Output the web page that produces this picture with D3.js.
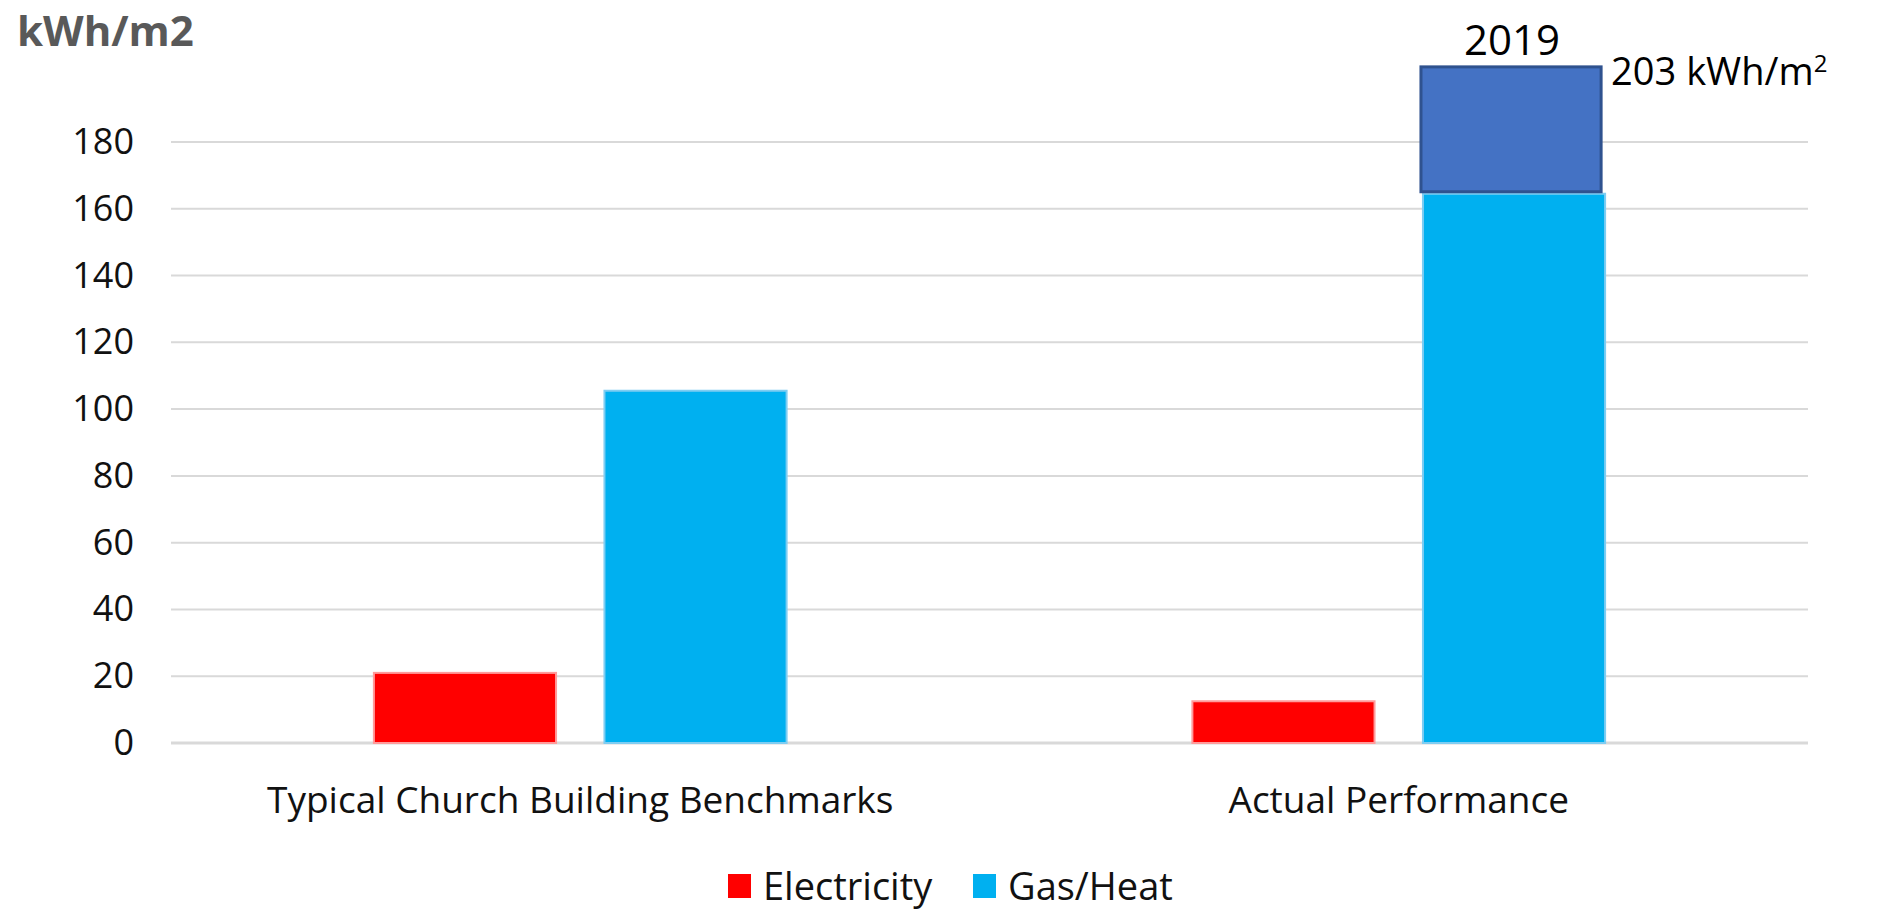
<!DOCTYPE html>
<html>
<head>
<meta charset="utf-8">
<script src="https://cdn.jsdelivr.net/npm/d3@7"></script>
<style>
  body { margin: 0; background: #fff; }
  text { font-family: "Open Sans", sans-serif; }
</style>
</head>
<body>
<div id="chart"></div>
<script>
// Data
const categories = ["Typical Church Building Benchmarks", "Actual Performance"];
const seriesNames = ["Electricity", "Gas/Heat"];
const electricity = [21, 12.5];
const gasHeat = [105.5, 164.5];
const yearTotal = [null, 202.5];   // 2019 total, drawn on top of Gas/Heat
const yearLabel = "2019";
const totalLabel = "203 kWh/m";
const yTicks = [0, 20, 40, 60, 80, 100, 120, 140, 160, 180];

const colors = { "Electricity": "#ff0000", "Gas/Heat": "#00b0f0" };
const borders = { "Electricity": "#ff9b9b", "Gas/Heat": "#7fcdf2" };

const W = 1903, H = 911;
const margin = { top: 142, right: 95, bottom: 168, left: 171 };
const width = W - margin.left - margin.right;
const height = H - margin.top - margin.bottom;

const svg = d3.select("#chart")
  .append("svg")
  .attr("width", W)
  .attr("height", H);

const g = svg.append("g")
  .attr("transform", `translate(${margin.left},${margin.top})`);

// Scales
const x0 = d3.scaleBand()
  .domain(categories)
  .range([0, width])
  .padding(0);

const x1 = d3.scaleBand()
  .domain(seriesNames)
  .range([0, x0.bandwidth()])
  .paddingInner(0.21)
  .paddingOuter(0.88);

const y = d3.scaleLinear()
  .domain([0, 180])
  .range([height, 0]);

// Gridlines
g.selectAll(".grid")
  .data(yTicks)
  .enter()
  .append("line")
  .attr("x1", 0)
  .attr("x2", width)
  .attr("y1", d => y(d))
  .attr("y2", d => y(d))
  .attr("stroke", "#d9d9d9")
  .attr("stroke-width", d => d === 0 ? 3 : 2);

// Y axis labels
const yAxis = g.append("g")
  .call(d3.axisLeft(y).tickValues(yTicks).tickSize(0).tickPadding(37));
yAxis.select(".domain").remove();
yAxis.selectAll("text")
  .style("font-family", "'Open Sans', sans-serif")
  .style("font-size", "36px")
  .attr("fill", "#111");

// Bars
const rows = categories.map((c, i) => ({
  category: c,
  values: [
    { key: "Electricity", value: electricity[i] },
    { key: "Gas/Heat", value: gasHeat[i] }
  ]
}));

const groups = g.selectAll(".group")
  .data(rows)
  .enter()
  .append("g")
  .attr("transform", d => `translate(${x0(d.category)},0)`);

groups.selectAll("rect")
  .data(d => d.values)
  .enter()
  .append("rect")
  .attr("x", d => x1(d.key))
  .attr("width", x1.bandwidth())
  .attr("y", d => y(d.value))
  .attr("height", d => y(0) - y(d.value))
  .attr("fill", d => colors[d.key])
  .attr("stroke", d => borders[d.key])
  .attr("stroke-width", 2);

// 2019 block stacked on top of Gas/Heat
const yearData = categories
  .map((c, i) => ({ category: c, base: gasHeat[i], total: yearTotal[i] }))
  .filter(d => d.total != null);

g.selectAll(".year")
  .data(yearData)
  .enter()
  .append("rect")
  .attr("x", d => x0(d.category) + x1("Gas/Heat") - 2)
  .attr("width", x1.bandwidth() - 2)
  .attr("y", d => y(d.total))
  .attr("height", d => y(d.base) - y(d.total) - 2)
  .attr("fill", "#4472c4")
  .attr("stroke", "#2f528f")
  .attr("stroke-width", 3);

g.selectAll(".year-label")
  .data(yearData)
  .enter()
  .append("text")
  .attr("x", d => x0(d.category) + x1("Gas/Heat") + x1.bandwidth() / 2 - 2)
  .attr("y", d => y(d.total) - 12)
  .attr("text-anchor", "middle")
  .style("font-size", "42px")
  .attr("fill", "#000")
  .text(yearLabel);

const total = g.selectAll(".total-label")
  .data(yearData)
  .enter()
  .append("text")
  .attr("x", d => x0(d.category) + x1("Gas/Heat") + x1.bandwidth() + 6)
  .attr("y", d => y(d.total) + 18)
  .style("font-size", "38px")
  .attr("fill", "#000")
  .text(totalLabel);
total.append("tspan")
  .attr("dy", -13)
  .style("font-size", "24px")
  .text("2");

// X axis labels
g.selectAll(".xlabel")
  .data(categories)
  .enter()
  .append("text")
  .attr("x", d => x0(d) + x0.bandwidth() / 2)
  .attr("y", height + 70)
  .attr("text-anchor", "middle")
  .style("font-size", "37px")
  .attr("fill", "#111")
  .text(d => d);

// Y axis title
svg.append("text")
  .attr("x", 17)
  .attr("y", 46)
  .style("font-size", "42px")
  .style("font-weight", "bold")
  .attr("fill", "#595959")
  .text("kWh/m2");

// Legend
const legend = svg.append("g")
  .attr("transform", "translate(728,874)");

const legendItems = legend.selectAll(".item")
  .data(seriesNames)
  .enter()
  .append("g")
  .attr("transform", (d, i) => `translate(${i * 245},0)`);

legendItems.append("rect")
  .attr("width", 23)
  .attr("height", 24)
  .attr("fill", d => colors[d]);

legendItems.append("text")
  .attr("x", 35)
  .attr("y", 26)
  .style("font-size", "38px")
  .attr("fill", "#111")
  .text(d => d);
</script>
</body>
</html>
